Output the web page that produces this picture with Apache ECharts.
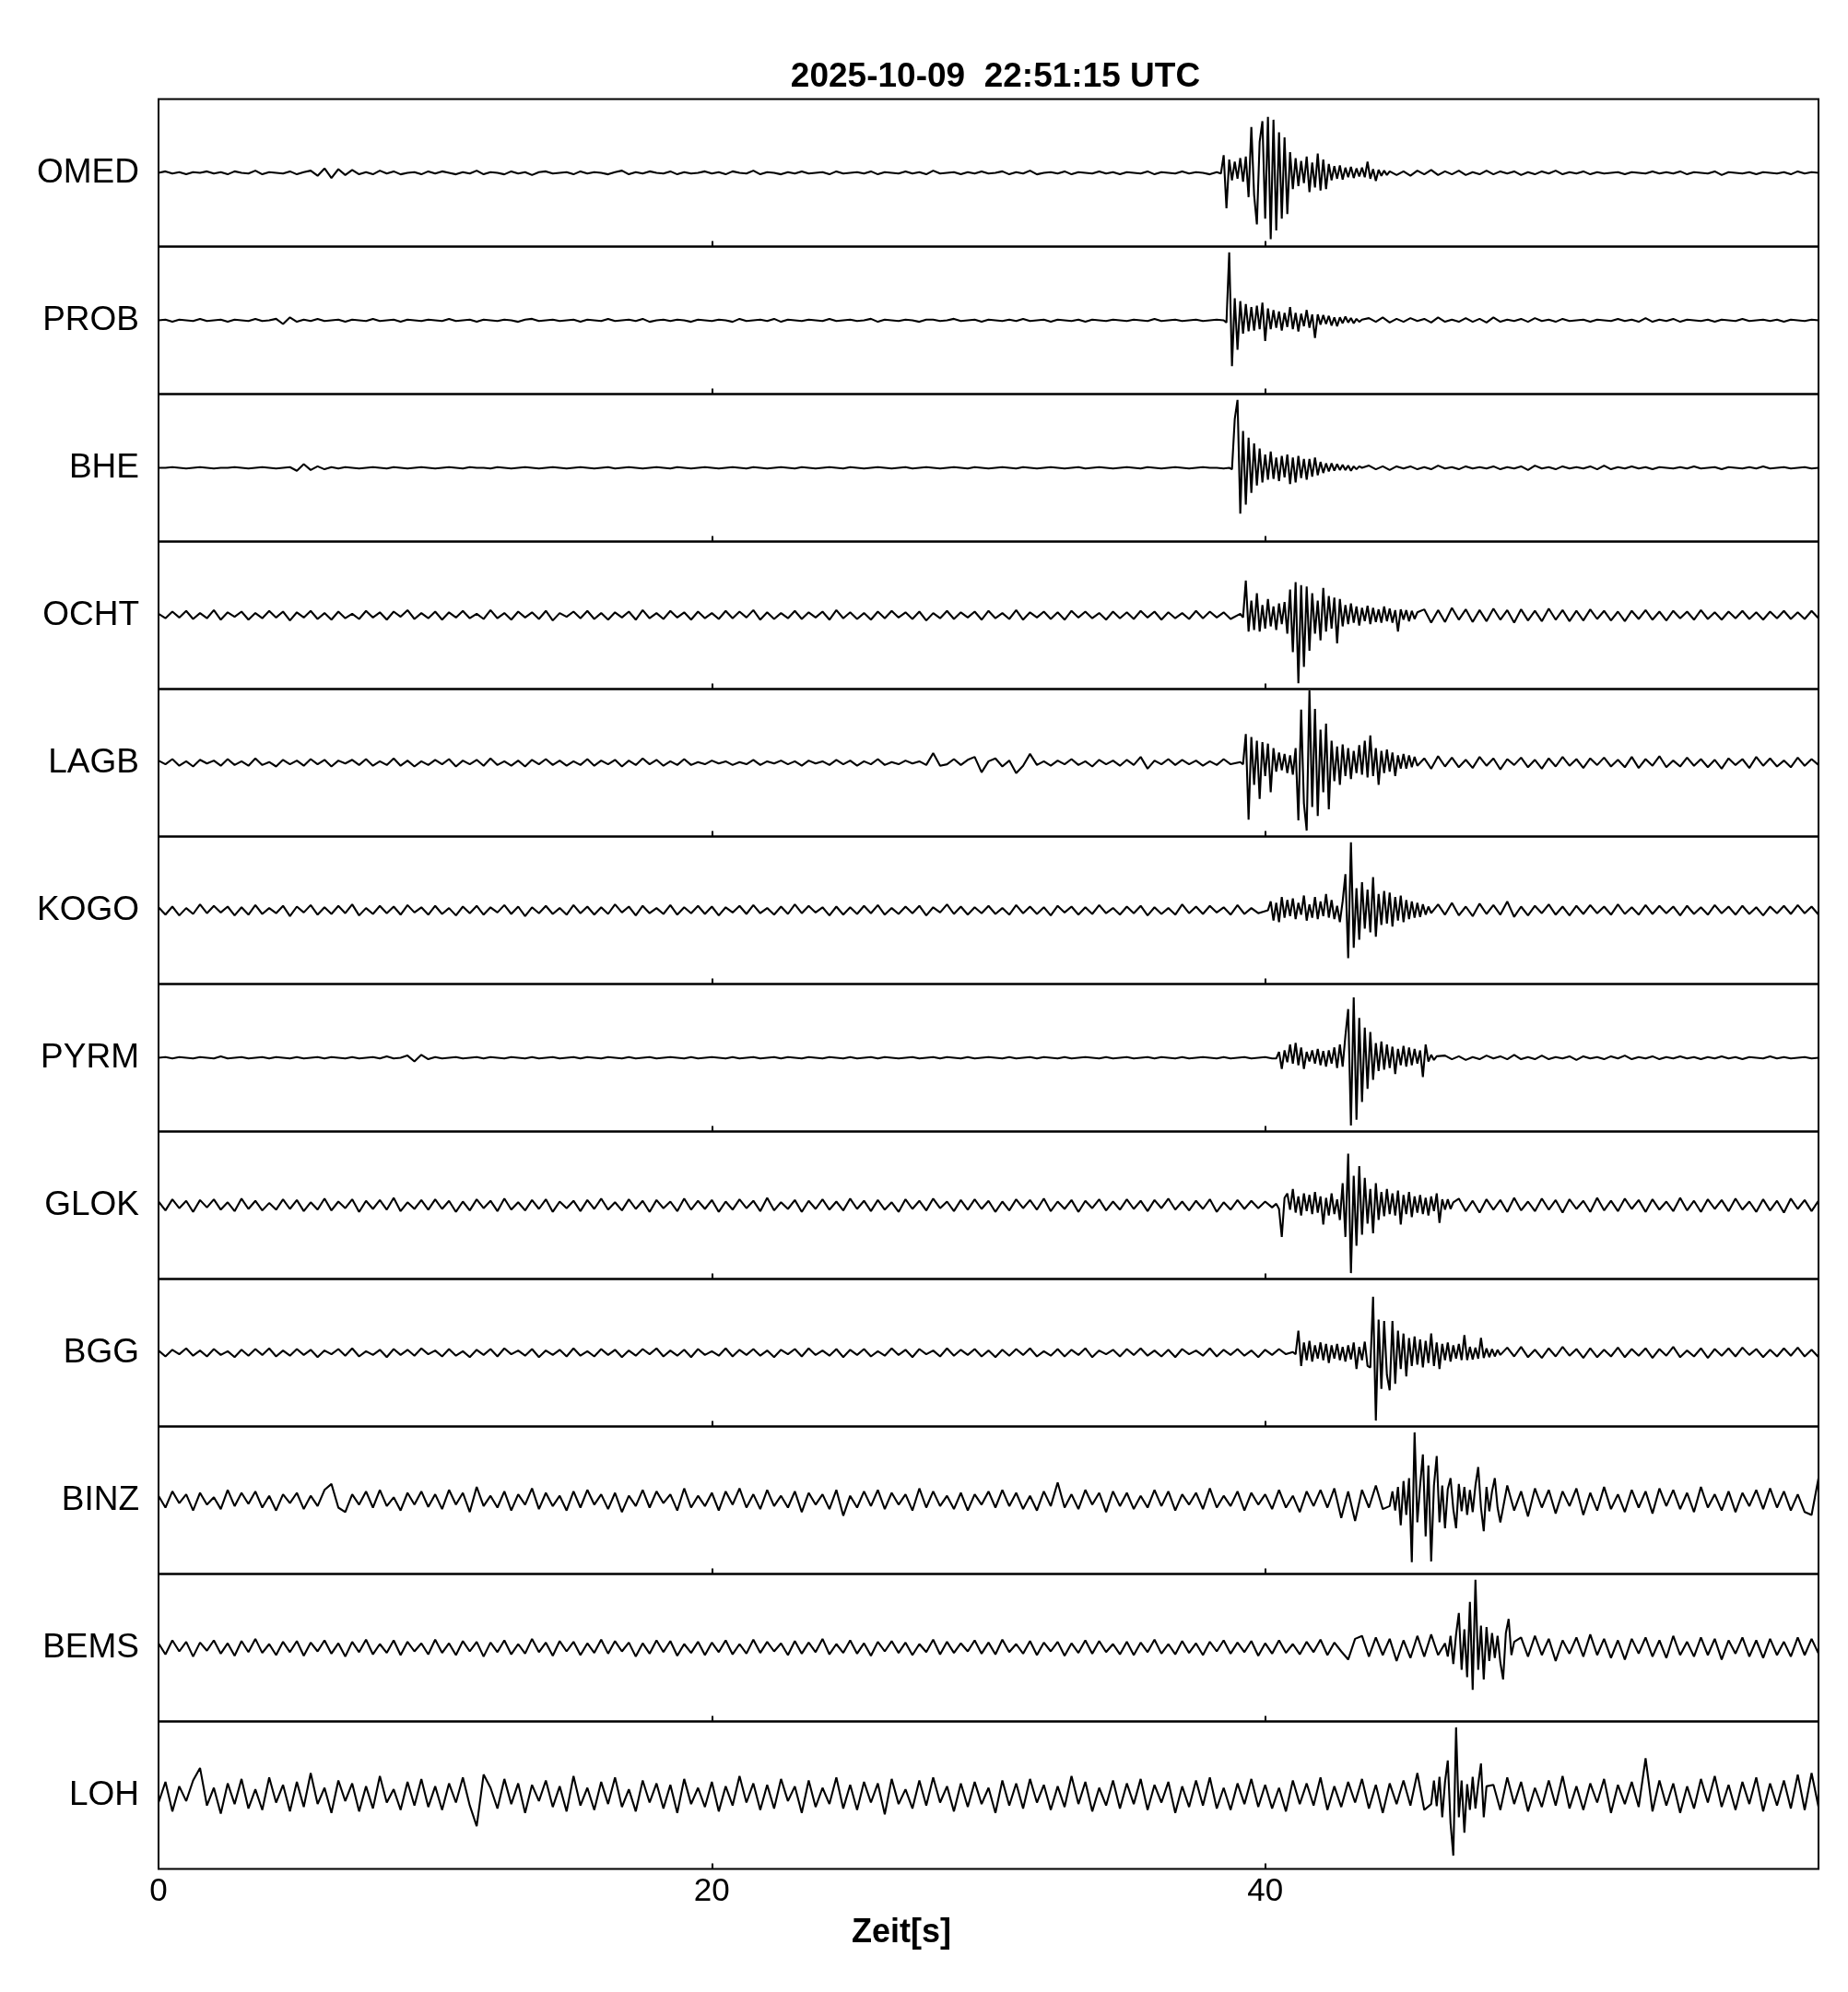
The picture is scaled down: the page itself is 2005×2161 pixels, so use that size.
<!DOCTYPE html>
<html>
<head>
<meta charset="utf-8">
<script src="https://cdn.jsdelivr.net/npm/echarts/dist/echarts.min.js"></script>
<style>
html,body{margin:0;padding:0;background:#fff;}
#chart{width:2005px;height:2161px;}
</style>
</head>
<body>
<div id="chart"></div>
<script>
// ---- DATA ----
const titleText = '2025-10-09  22:51:15 UTC';
const xAxisTitle = 'Zeit[s]';
const stations = ['OMED','PROB','BHE','OCHT','LAGB','KOGO','PYRM','GLOK','BGG','BINZ','BEMS','LOH'];
const xTicks = [0, 20, 40];
// start time (s) of the densely sampled event segment of each trace
const evStarts = [38.3, 38.5, 38.7, 39.1, 39.1, 40.1, 40.3, 40.4, 41.0, 44.5, 46.5, 46.0];
// background samples every 0.25 s from t=0 (pre) and ending at t=60 (post); event samples every 0.1 s

const omedPre = [0,2,-1,1,-2,1,0,2,-1,1,-2,2,0,-1,3,-2,1,0,-1,2,
-2,1,3,-4,6,-7,5,-3,4,-2,1,-2,3,-1,2,-2,0,1,-2,2,
-1,2,0,-2,1,-1,3,-2,1,0,-2,2,-1,1,-3,1,2,-1,0,1,
-2,2,-1,1,0,-2,1,3,-2,1,-1,2,0,-1,2,-2,1,-1,0,2,
-1,1,-2,2,0,-1,3,-2,1,0,-2,1,-1,2,-1,0,1,-2,2,-1,
0,1,-1,2,-2,1,0,-1,2,-1,1,-2,3,-1,0,1,-2,1,-1,2,
-1,0,2,-2,1,-1,3,-2,0,1,-1,2,-2,1,0,-1,2,-1,1,-2,
1,0,-1,2,-2,1,0,-1,2,-1,1,0,-2,1];
const omedEv = [0,-1,24,-48,18,-10,15,
-8,20,-12,22,-33,62,-30,-70,42,70,
-62,76,-90,72,-78,55,-62,48,-56,28,
-22,20,-18,16,-14,22,-26,14,-20,26,
-24,18,-22,12,-10,9,-8,10,-9,7,
-6,8,-7,6,-5,7,-6,15,-8,5,
-11,4,-4,3,-3,2];
const omedPost = [3,-3,2,-4,3,-2,4,-3,2,-2,3,-3,1,-2,3,-2,2,-1,2,-3,
1,-2,2,-1,3,-2,1,-1,2,-2,1,-1,0,1,-2,1,0,-1,2,-1,
1,-1,2,-2,1,0,-1,2,-3,1,0,-1,1,-2,1,0,-1,1,-2,2,
-1,1,0];

const probPre = [0,1,-2,1,0,-1,2,-1,0,1,-2,1,0,-1,2,-1,0,2,-5,4,
-2,1,-1,2,-1,0,1,-2,1,0,-1,2,-1,0,1,-2,1,0,-1,1,
0,-1,2,-1,0,1,-2,1,0,-1,1,0,-2,1,2,-1,0,1,-1,0,
1,-2,1,0,-1,2,-1,0,1,-1,2,-2,0,1,-1,1,0,-2,1,0,
-1,1,0,-2,2,-1,0,1,-1,2,-2,1,0,-1,1,0,-1,2,-1,0,
1,-1,0,2,-2,1,0,-1,1,0,-2,1,1,-1,0,2,-1,0,1,-2,
1,0,-1,1,-1,2,-1,0,1,-2,1,0,-1,1,-2,1,0,-1,1,0,
-1,1,0,-1,2,-1,0,1,-1,0,1,-1,0,1];
const probEv = [0,-3,92,-62,30,-40,26,-18,22,-15,
18,-14,20,-12,24,-28,16,-12,14,-10,
12,-14,10,-9,18,-12,10,-15,9,-8,
14,-10,8,-24,8,-6,7,-5,6,-7,
4,-8,4,-4,5,-3,3,-4,2,-2,
1];
const probPost = [3,-2,4,-3,2,-2,3,-1,2,-3,4,-2,1,-2,3,-2,2,-3,4,-2,
1,-1,2,-2,3,-1,1,-2,2,-1,0,1,-2,1,0,-1,2,-1,1,-2,
3,-2,1,-1,2,-2,1,0,-1,1,-2,1,0,-1,2,-1,0,1,-1,1,
-2,1,0,-1,1,0];

const bhePre = [0,0,1,0,-1,0,1,0,-1,0,0,1,0,-1,0,1,0,-1,0,1,
-4,5,-3,2,-2,1,-1,1,0,-1,0,1,0,-1,1,0,-1,0,1,0,
-1,0,1,0,-1,1,0,0,-1,1,0,-1,0,1,0,-1,0,1,0,-1,
0,1,0,-1,0,1,-1,0,1,0,-1,0,1,0,-1,1,0,-1,0,1,
0,-1,0,1,0,-1,1,0,-1,0,1,0,-1,1,0,-1,0,1,0,-1,
1,0,-1,0,1,0,-1,0,1,-1,0,1,0,-1,0,1,0,-1,1,0,
-1,0,1,0,-1,1,0,-1,0,1,0,-1,0,1,-1,0,1,0,-1,0,
1,0,-1,1,0,-1,0,1,0,-1,0,1,0,0,-1];
const bheEv = [0,-2,66,92,-62,50,-50,41,-34,33,
-24,26,-20,18,-16,22,-15,14,-18,16,
-13,18,-22,14,-20,16,-14,12,-16,12,
-12,14,-10,8,-7,6,-5,6,-4,5,
-3,4,-3,3,-4,2,-2,2,0];
const bhePost = [3,-2,2,-3,2,-1,2,-2,1,-2,3,-1,1,-2,2,-1,1,-1,2,-2,
1,-1,2,-3,3,-1,1,-2,2,-1,1,-1,2,-2,3,-2,1,-1,2,-1,
1,-2,1,0,-1,1,-1,2,-1,0,1,-2,1,0,-1,1,-1,2,-1,0,
1,-1,0,1,-1,0];

const ochtPre = [2,-4,5,-3,6,-5,3,-4,7,-6,4,-2,5,-6,3,-4,6,-3,5,-7,
4,-3,6,-5,3,-6,5,-4,2,-5,6,-3,4,-6,5,-2,7,-5,3,-4,
5,-6,4,-3,6,-4,2,-5,7,-4,3,-6,5,-3,4,-5,6,-7,3,-2,
5,-4,6,-5,3,-6,4,-3,5,-6,7,-4,3,-5,6,-3,4,-6,5,-4,
3,-5,6,-4,5,-3,7,-6,4,-5,3,-4,6,-5,4,-3,5,-6,7,-4,
4,-5,3,-6,5,-4,6,-3,4,-5,5,-7,3,-4,6,-5,4,-3,5,-6,
6,-4,3,-5,7,-6,4,-3,5,-5,4,-6,6,-3,5,-4,3,-6,5,-4,
4,-5,6,-3,5,-6,4,-4,3,-5,6,-4,5,-3,4,-5];
const ochtEv = [2,-3,47,-22,20,-20,30,-22,14,-18,
22,-15,12,-20,16,-12,18,-25,35,-50,
45,-92,41,-70,39,-48,30,-25,20,-34,
37,-22,26,-18,24,-38,22,-15,14,-12,
16,-10,12,-14,10,-8,13,-12,10,-9,
8,-10,12,-8,9,-10,7,-22,8,-6,
7,-8,6,-5,4];
const ochtPost = [8,-10,7,-9,10,-6,8,-9,7,-8,9,-6,7,-10,8,-7,6,-8,9,-6,
7,-8,6,-7,8,-5,6,-7,5,-8,6,-5,7,-6,5,-7,6,-4,5,-6,
7,-5,4,-6,5,-4,6,-5,4,-6,5,-4,6,-5,4,-5,6,-4];

const lagbPre = [3,-2,5,-4,2,-5,4,-1,3,-4,5,-3,2,-4,6,-3,1,-5,4,-2,
3,-4,5,-2,4,-5,3,-1,4,-3,5,-4,2,-3,6,-4,3,-5,2,-3,
4,-2,5,-5,3,-2,4,-4,6,-3,2,-4,3,-5,4,-2,5,-3,3,-4,
2,-3,5,-4,3,-2,4,-5,3,-3,6,-2,4,-4,2,-3,5,-3,1,-2,
3,-1,2,-3,1,-2,4,-3,2,-1,3,-2,2,-4,3,-1,2,-3,4,-2,
3,-4,2,-2,5,-3,1,-2,3,-1,2,-3,13,-4,-2,5,-3,4,8,-13,
2,6,-5,3,-14,-4,12,-3,2,-4,3,-2,5,-3,2,-5,4,-2,3,-4,
4,-3,8,-8,3,-2,5,-3,4,-2,3,-4,2,-3,5,-2];
const lagbEv = [1,-2,39,-77,35,-30,30,-49,28,-18,
26,-40,20,-12,14,-10,12,-14,10,-16,
20,-78,72,-55,-92,98,-60,73,-72,45,
-40,53,-63,30,-25,22,-30,25,-18,20,
-22,16,-14,24,-16,30,-20,37,-18,20,
-30,16,-14,18,-12,14,-18,10,-8,12,
-8,10,-6,8,-4];
const lagbPost = [6,-8,9,-5,7,-6,4,-7,8,-4,6,-9,5,-3,7,-6,4,-8,6,-5,
8,-4,5,-7,6,-3,7,-5,4,-6,8,-7,5,-4,9,-6,3,-5,7,-4,
5,-6,4,-8,6,-3,5,-7,8,-4,6,-5,3,-6,7,-4,5,-3];

const kogoPre = [4,-6,5,-7,3,-5,8,-4,6,-3,5,-7,4,-6,7,-5,3,-4,6,-8,
5,-3,7,-6,4,-5,6,-4,8,-7,3,-5,6,-4,5,-6,7,-3,4,-6,
6,-5,3,-7,5,-4,6,-6,4,-3,7,-5,5,-8,4,-4,6,-5,3,-6,
7,-4,5,-6,4,-5,8,-3,5,-7,6,-4,3,-5,7,-6,4,-4,6,-5,
5,-7,4,-3,6,-5,7,-4,3,-6,5,-5,8,-4,6,-3,4,-7,5,-6,
4,-5,6,-4,7,-6,3,-5,5,-4,6,-7,4,-3,8,-5,5,-6,4,-4,
6,-5,3,-6,7,-4,5,-5,4,-7,6,-3,5,-6,4,-5,7,-4,3,-6,
5,-4,6,-7,4,-5,3,-6,8,-4,5,-5,6,-3,4,-6,7,-5,3,-4];
const kogoEv = [0,12,-14,10,-16,18,-10,14,-8,16,
-12,10,-6,20,-14,8,-10,18,-12,12,
-8,22,-10,14,-12,6,-16,12,49,-65,
92,-51,30,-40,38,-25,28,-30,45,-36,
22,-20,26,-18,24,-22,18,-14,20,-16,
14,-12,12,-10,10,-9,8,-6,5,-4];
const kogoPost = [8,-6,10,-7,5,-8,9,-5,7,-6,12,-9,5,-7,6,-4,8,-6,5,-7,
6,-5,7,-4,5,-6,8,-5,4,-6,7,-5,6,-4,5,-7,6,-5,4,-6,
7,-4,5,-6,6,-5,4,-7,5,-4,6,-5,7,-4,5,-6];

const pyrmPre = [0,1,-1,1,0,-1,1,0,-1,2,-1,0,1,-1,0,1,-1,1,0,-1,
1,-1,0,1,-1,1,0,-1,1,-1,0,1,-1,2,-1,0,3,-5,4,-2,
1,-1,0,1,-1,0,1,-1,1,0,-1,1,0,-1,1,-1,0,1,-1,0,
1,-1,1,0,-1,1,0,-1,1,-1,0,1,-1,0,1,0,-1,1,-1,0,
1,0,-1,1,-1,0,1,-1,0,1,-1,1,0,-1,1,0,-1,1,0,-1,
1,-1,0,1,-1,1,0,-1,0,1,-1,0,1,-1,1,0,-1,1,-1,0,
1,0,-1,1,-1,0,1,-1,1,0,-1,1,-1,0,1,0,-1,1,-1,0,
1,-1,0,1,-1,1,0,-1,1,-1,0,1,0,-1,1,-1,0,1,-1,0,
1,-1];
const pyrmEv = [0,-1,8,-15,10,-6,18,-8,20,-10,
14,-15,8,-5,10,-8,12,-10,9,-12,
10,-8,14,-14,18,-12,30,66,-92,82,
-84,54,-60,41,-42,35,-30,20,-18,22,
-16,18,-14,15,-22,12,-10,16,-12,14,
-10,12,-8,10,-26,18,-5,4,-3,2];
const pyrmPost = [3,-2,2,-3,1,-2,3,-1,2,-2,4,-2,1,-2,3,-2,1,-1,2,-3,
2,-1,1,-2,2,-1,3,-2,1,-1,2,-2,1,-1,2,-1,1,-2,1,-1,
2,-1,1,-2,1,0,-1,2,-1,1,-1,0,1,-1,0];

const glokPre = [5,-7,8,-4,6,-9,7,-3,8,-6,4,-8,9,-5,6,-7,3,-6,8,-5,
7,-8,4,-6,9,-7,5,-4,8,-9,6,-5,7,-6,10,-8,4,-5,7,-6,
8,-5,6,-9,5,-7,8,-4,6,-8,9,-6,4,-7,7,-5,8,-9,5,-4,
6,-8,7,-5,9,-6,4,-7,8,-5,6,-9,7,-4,5,-8,9,-6,6,-5,
7,-9,5,-6,8,-4,6,-8,10,-7,4,-5,7,-9,6,-5,8,-6,5,-7,
9,-5,6,-8,7,-6,4,-9,8,-5,6,-7,9,-4,5,-8,7,-6,8,-5,
6,-9,5,-7,8,-4,7,-6,9,-8,5,-5,7,-9,6,-4,8,-7,5,-6,
8,-5,6,-8,7,-4,9,-6,5,-7,6,-5,8,-9,4,-6,7,-5,6,-4,5,-3];
const glokEv = [2,-5,-43,10,16,-6,22,-10,12,-14,
16,-8,14,-12,18,-10,12,-26,10,-14,
16,-12,8,-20,30,-43,70,-92,40,-55,
53,-40,37,-25,22,-38,30,-20,18,-15,
22,-12,16,-14,20,-26,14,-12,18,-16,
12,-10,14,-12,10,-14,12,-8,16,-24,
8,-6,8,-5,4];
const glokPost = [9,-8,6,-10,8,-6,7,-9,10,-7,5,-8,9,-6,7,-10,8,-5,6,-9,
10,-7,6,-8,9,-5,7,-9,8,-6,5,-8,10,-7,6,-9,8,-5,7,-8,
9,-6,5,-9,8,-7,6,-10,9,-5,7,-8,6];

const bggPre = [3,-5,4,-2,6,-4,3,-5,5,-3,2,-6,4,-4,5,-3,6,-5,3,-4,
5,-3,4,-6,3,-2,5,-4,6,-5,2,-3,4,-6,5,-3,4,-4,6,-2,
3,-5,5,-4,2,-6,4,-3,5,-5,6,-2,3,-4,5,-6,3,-3,4,-5,
6,-4,2,-5,5,-3,4,-6,3,-4,5,-2,6,-5,3,-4,4,-6,5,-3,
2,-4,6,-5,4,-3,5,-4,3,-6,4,-2,5,-5,6,-3,3,-4,5,-6,
4,-3,5,-5,2,-4,6,-3,4,-6,5,-2,3,-5,6,-4,4,-3,5,-5,
3,-6,4,-4,5,-3,6,-5,2,-4,5,-5,4,-3,6,-6,3,-2,4,-5,
5,-3,6,-4,3,-5,4,-6,5,-2,3,-4,6,-5,4,-3,5,-4,3,-6,4,-3,5,-2];
const bggEv = [1,-2,30,-18,14,-10,16,-12,10,-8,
14,-10,12,-14,10,-8,12,-10,8,-12,
10,-9,14,-22,8,-10,15,-18,-20,76,
-92,45,-49,43,-30,-51,43,-42,30,-22,
26,-32,20,-18,22,-16,18,-20,16,-14,
26,-18,14,-22,12,-10,14,-12,10,-8,
12,-10,24,-10,8,-9,7,-8,20,-7,
6,-6,5,-5,4,-3];
const bggPost = [7,-5,8,-6,4,-7,6,-5,8,-4,5,-7,6,-6,4,-5,7,-6,5,-4,
6,-7,5,-4,8,-6,3,-5,6,-7,5,-4,6,-5,7,-3,5,-6,4,-5,
6,-4,7,-5,4,-6];

const binzPre = [6,-10,12,-4,8,-14,10,-6,4,-12,14,-8,10,-5,12,-10,6,-14,8,-4,
10,-12,6,-8,14,22,-10,-16,8,-6,12,-10,14,-8,4,-14,10,-6,12,-9,
8,-12,14,-6,10,-16,18,-8,6,-10,12,-14,8,-6,16,-12,10,-8,6,-14,
12,-10,14,-6,8,-12,10,-16,6,-8,14,-10,12,-4,8,-14,16,-10,6,-8,
10,-14,12,-6,16,-10,8,-12,14,-8,6,-10,12,-16,10,-6,8,-12,14,-21,
6,-10,12,-8,14,-12,10,-6,8,-14,16,-10,12,-8,6,-12,10,-14,8,-6,
12,-10,14,-8,10,-12,6,-14,12,-8,24,-10,8,-12,14,-6,10,-16,12,-8,
10,-12,6,-10,14,-8,12,-14,8,-6,10,-12,16,-10,6,-8,12,-14,10,-6,
8,-12,14,-10,6,-16,12,-8,14,-10,16,-24,12,-28,14,-10,20,-12];
const binzEv = [-8,12,-14,18,-34,26,-20,30,-84,92,
-30,20,62,-49,47,-83,20,60,-30,20,
-38,15,30,-12,-38,22,-15,18,-20,14,
-16,20,45,-10,-42,18,-15,12,30,-10,
-30];
const binzPost = [20,-14,12,-22,16,-10,14,-18,12,-8,16,-20,10,-14,18,-12,8,-16,14,-10,
12,-18,16,-8,14,-12,10,-16,18,-10,8,-14,12,-16,10,-8,14,-12,16,-10,
12,-14,8,-16,-20,30];

const bemsPre = [6,-9,10,-5,8,-12,7,-4,10,-8,6,-11,9,-6,12,-7,5,-10,8,-6,
9,-11,7,-5,10,-8,6,-12,8,-6,11,-9,5,-7,10,-10,8,-5,6,-9,
11,-7,6,-10,9,-5,8,-12,7,-6,10,-9,5,-8,12,-6,7,-11,9,-5,
8,-10,6,-7,11,-8,9,-5,7,-12,6,-8,10,-6,9,-11,5,-7,8,-10,
7,-6,10,-9,5,-8,11,-7,8,-5,6,-10,9,-8,7,-6,12,-9,5,-7,
10,-8,6,-11,8,-5,9,-7,7,-10,5,-6,11,-9,8,-7,6,-5,10,-8,
7,-9,11,-6,5,-8,9,-10,7,-5,8,-11,6,-7,10,-8,9,-6,5,-9,
8,-10,7,-6,11,-8,5,-9,9,-7,6,-10,8,-5,10,-8,7,-6,9,-11,
6,-8,10,-7,5,-9,8,-6,11,-10,7,-5,-16,12,16,-12,14,-10,12,-18,
10,-14,16,-12,18,-10];
const bemsEv = [6,-12,16,-22,18,47,-30,25,-40,62,
-57,92,-30,30,-43,28,-18,20,-14,16,
-20,-43,20,39,-10,8];
const bemsPost = [14,-12,16,-10,12,-18,10,-8,14,-12,18,-10,12,-14,10,-16,12,-8,14,-12,
10,-14,16,-10,8,-12,14,-10,12,-16,10,-8,14,-12,10,-14,12,-10,8,-12,
14,-10,12,-8];

const lohPre = [-10,18,-22,12,-8,20,37,-14,10,-25,16,-12,22,-18,8,-20,24,-10,14,-22,
18,-16,30,-12,10,-24,20,-8,16,-22,12,-18,26,-10,8,-20,18,-14,22,-16,
12,-20,16,-10,24,-14,-42,28,10,-18,22,-12,16,-24,14,-8,20,-16,12,-22,
26,-14,10,-20,18,-12,24,-16,8,-22,20,-10,16,-18,14,-24,22,-12,10,-16,
18,-22,12,-14,26,-10,16,-20,14,-18,22,-8,12,-24,20,-16,10,-12,24,-18,
14,-20,18,-10,16,-26,22,-12,8,-18,20,-14,24,-10,12,-22,16,-16,18,-12,
10,-24,20,-14,16,-18,22,-10,14,-20,12,-16,26,-12,18,-22,10,-14,20,-18,
16,-12,22,-20,14,-10,18,-24,12,-16,20,-14,24,-18,10,-20,16,-12,22,-16,
14,-18,10,-22,20,-12,16,-14,24,-20,12,-16,18,-10,22,-18,14,-24,16,-12,20,-14,30,-20];
const lohEv = [-12,20,-15,25,-30,18,47,-38,-82,92,
-30,20,-51,15,-20,25,-18,15,43,-30,
12];
const lohPost = [14,-20,24,-12,18,-22,10,-16,20,-14,26,-18,12,-20,16,-10,22,-24,14,-12,
18,-16,50,-22,20,-14,16,-24,12,-18,22,-10,26,-16,14,-20,18,-12,24,-22,
16,-14,20,-18,28,-20,30,-16];

const preArrays  = [omedPre, probPre, bhePre, ochtPre, lagbPre, kogoPre, pyrmPre, glokPre, bggPre, binzPre, bemsPre, lohPre];
const evArrays   = [omedEv, probEv, bheEv, ochtEv, lagbEv, kogoEv, pyrmEv, glokEv, bggEv, binzEv, bemsEv, lohEv];
const postArrays = [omedPost, probPost, bhePost, ochtPost, lagbPost, kogoPost, pyrmPost, glokPost, bggPost, binzPost, bemsPost, lohPost];

// ---- BUILD ----
const DT_BG = 0.25, DT_EV = 0.1, T_END = 60;
function buildTrace(pre, ev, evStart, post) {
  const pts = [];
  const evEnd = evStart + (ev.length - 1) * DT_EV;
  pre.forEach((v, i) => { const t = i * DT_BG; if (t < evStart - 1e-6) pts.push([t, v]); });
  ev.forEach((v, i) => pts.push([+(evStart + i * DT_EV).toFixed(3), v]));
  post.forEach((v, i) => { const t = T_END - (post.length - 1 - i) * DT_BG; if (t > evEnd + 1e-6) pts.push([t, v]); });
  return pts;
}

const N = stations.length;
const L = 172, R = 32, TOP = 107.5, H = 160;
const FONT = 'Liberation Sans';

const option = {
  backgroundColor: '#fff',
  animation: false,
  grid: stations.map((s, i) => ({
    left: L, right: R, top: TOP + H * i, height: H,
    show: true, borderColor: '#000', borderWidth: 2, backgroundColor: 'transparent'
  })),
  xAxis: stations.map((s, i) => ({
    gridIndex: i, type: 'value', min: 0, max: T_END, interval: 20, position: 'bottom',
    axisLine: { show: false, onZero: false },
    splitLine: { show: false },
    axisTick: { show: true, inside: true, length: 6, lineStyle: { color: '#000', width: 2 } },
    axisLabel: {
      show: i === N - 1, showMaxLabel: false, margin: 7,
      fontSize: 35, color: '#000', fontFamily: FONT,
      formatter: v => (xTicks.indexOf(v) >= 0 ? String(v) : '')
    }
  })),
  yAxis: stations.map((s, i) => ({
    gridIndex: i, type: 'value', min: -100, max: 100,
    axisLine: { show: false, onZero: false }, axisTick: { show: false }, axisLabel: { show: false }, splitLine: { show: false },
    name: s, nameLocation: 'middle', nameRotate: 0, nameGap: 21,
    nameTextStyle: { fontSize: 37, color: '#000', fontFamily: FONT, align: 'right', verticalAlign: 'middle' }
  })),
  graphic: [
    { type: 'text', x: 1080, y: 84, silent: true,
      style: { text: titleText, fill: '#000', fontSize: 37, fontWeight: 'bold', fontFamily: FONT, align: 'center', verticalAlign: 'middle' } },
    { type: 'text', x: 978, y: 2097, silent: true,
      style: { text: xAxisTitle, fill: '#000', fontSize: 36, fontWeight: 'bold', fontFamily: FONT, align: 'center', verticalAlign: 'middle' } }
  ],
  series: stations.map((s, i) => ({
    name: s, type: 'line', xAxisIndex: i, yAxisIndex: i,
    data: buildTrace(preArrays[i], evArrays[i], evStarts[i], postArrays[i]),
    showSymbol: false, symbol: 'none', silent: true, clip: true,
    lineStyle: { color: '#000', width: 2.1 },
    emphasis: { disabled: true }
  }))
};

const chart = echarts.init(document.getElementById('chart'), null, { renderer: 'canvas', width: 2005, height: 2161 });
chart.setOption(option);
</script>
</body>
</html>
